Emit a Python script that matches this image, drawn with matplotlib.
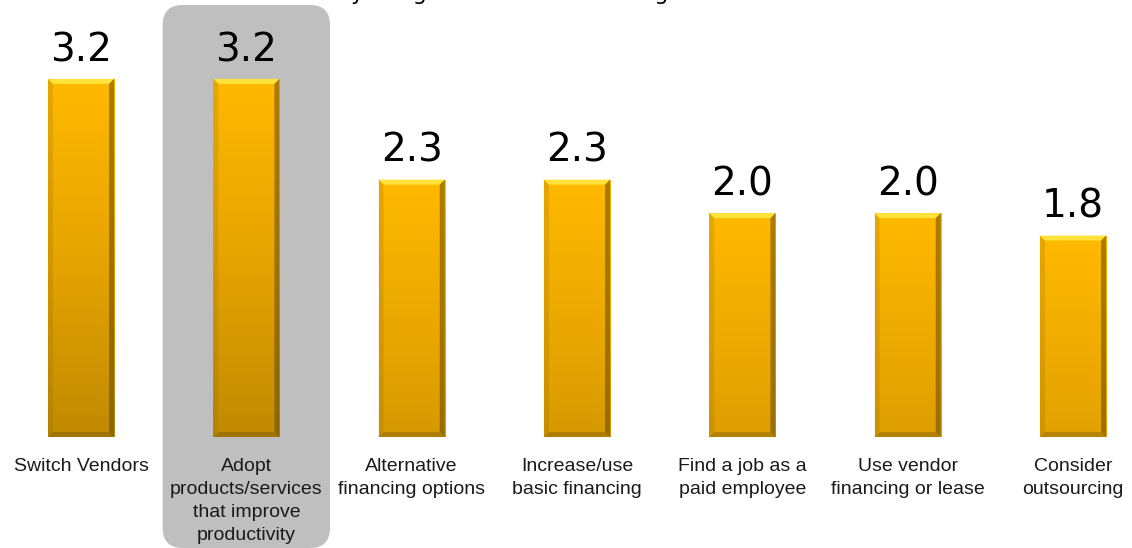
import numpy as np
import matplotlib
matplotlib.use("Agg")
import matplotlib.pyplot as plt
import matplotlib.patches as patches
from matplotlib.colors import LinearSegmentedColormap
from matplotlib.transforms import IdentityTransform

# Data
categories = ["Switch Vendors",
              "Adopt\nproducts/services\nthat improve\nproductivity",
              "Alternative\nfinancing options",
              "Increase/use\nbasic financing",
              "Find a job as a\npaid employee",
              "Use vendor\nfinancing or lease",
              "Consider\noutsourcing"]
values = [3.2, 3.2, 2.3, 2.3, 2.0, 2.0, 1.8]
highlight = 1
title = "Please indicate how strongly\nyou agree with the following statements:"

W, H, DPI = 1132, 548, 100
fig = plt.figure(figsize=(W / DPI, H / DPI), dpi=DPI)
ax = fig.add_axes([0, 111 / H, 1, 437 / H])
ax.set_xlim(-0.49, 6.357)
ax.set_ylim(0, 3.905)
ax.axis("off")

x = np.arange(len(values))
bw = 0.40
bars = ax.bar(x, values, width=bw, color="none", edgecolor="none", zorder=3)

# vertical gradient for the bars
cmap = LinearSegmentedColormap.from_list("gold", ["#c08a00", "#e6a400", "#ffb900"])
grad = np.linspace(0, 1, 256).reshape(-1, 1)
top = max(values)
bx, by = 5 / 165.3, 5 / 111.9
for rect, v in zip(bars, values):
    x0 = rect.get_x()
    x1 = x0 + rect.get_width()
    im = ax.imshow(grad, cmap=cmap, origin="lower", aspect="auto",
                   extent=[x0, x1, 0, v], vmin=1 - top / v if v < top else 0, vmax=1,
                   zorder=3)
    im.set_clip_path(rect)
    # bevels
    ax.add_patch(patches.Polygon([(x0, v), (x1, v), (x1 - bx, v - by), (x0 + bx, v - by)],
                                 closed=True, facecolor="#ffe23a", edgecolor="none", zorder=4))
    ax.add_patch(patches.Polygon([(x0, 0), (x0, v), (x0 + bx, v - by), (x0 + bx, by)],
                                 closed=True, facecolor="#8a6200", alpha=0.2, edgecolor="none", zorder=4))
    ax.add_patch(patches.Polygon([(x1, 0), (x1, v), (x1 - bx, v - by), (x1 - bx, by)],
                                 closed=True, facecolor="#5a4000", alpha=0.5, edgecolor="none", zorder=4))
    ax.add_patch(patches.Polygon([(x0, 0), (x1, 0), (x1 - bx, by), (x0 + bx, by)],
                                 closed=True, facecolor="#5a4000", alpha=0.3, edgecolor="none", zorder=4))
    ax.annotate(f"{v:.1f}", (rect.get_x() + rect.get_width() / 2, v),
                xytext=(0, 7), textcoords="offset points", ha="center", va="bottom",
                fontsize=28, family="DejaVu Sans", color="black", zorder=5)

# category labels below the bars
for i, lab in enumerate(categories):
    ax.text(i, -0.19, lab, ha="center", va="top", fontsize=14,
            family="Liberation Sans", color="#1a1a1a", linespacing=1.45,
            clip_on=False, zorder=5)

# grey highlight box around one category (pixel coordinates from the data transform)
fig.canvas.draw()
px0 = ax.transData.transform((highlight - 0.5, 0))[0] - 1
px1 = ax.transData.transform((highlight + 0.5, 0))[0] + 1
r = 20
box = patches.FancyBboxPatch((px0 + r, r), px1 - px0 - 2 * r, H - 5 - 2 * r,
                             boxstyle=f"round,pad={r}", facecolor="#bfbfbf",
                             edgecolor="none", transform=IdentityTransform(), zorder=-1)
box.set_figure(fig)
fig.patches.append(box)

# title, mostly above the top edge of the picture as in the reference
fig.text(0.512, 1 - 4.5 / H, title, ha="center", va="bottom", fontsize=16,
         family="DejaVu Sans", color="black", multialignment="center")

fig.savefig("out.png", dpi=DPI)
